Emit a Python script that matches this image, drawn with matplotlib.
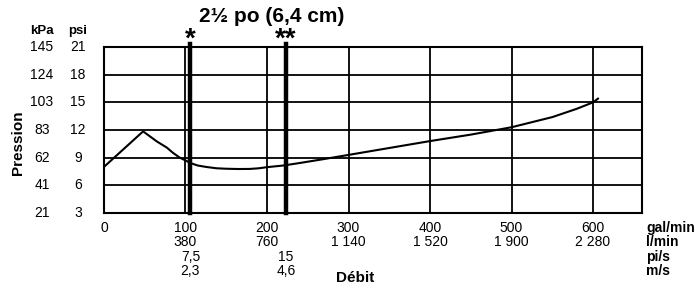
import matplotlib
matplotlib.use("Agg")
import matplotlib.pyplot as plt
import matplotlib.transforms as mtransforms

plt.rcParams['font.family'] = ['Liberation Sans', 'DejaVu Sans']

# pressure axis
psi = [3, 6, 9, 12, 15, 18, 21]
kpa = ['21', '41', '62', '83', '103', '124', '145']

# flow axis
gal_min = [0, 100, 200, 300, 400, 500, 600]
l_min = ['', '380', '760', '1 140', '1 520', '1 900', '2 280']

# velocity markers (* and **)
marker_flow = [106, 223]
marker_star = ['*', '**']
pi_s = ['7,5', '15']
m_s = ['2,3', '4,6']

# pressure loss curve (gal/min, psi)
curve_x = [0, 48, 55, 65, 77, 85, 93, 100, 106, 115, 125, 138, 150, 165,
           179, 190, 200, 220, 240, 270, 300, 350, 400, 450, 500, 550, 580,
           600, 606]
curve_y = [8.0, 11.85, 11.4, 10.75, 10.1, 9.5, 9.0, 8.7, 8.42, 8.15, 8.0,
           7.85, 7.8, 7.77, 7.78, 7.85, 7.97, 8.15, 8.42, 8.85, 9.3, 10.05,
           10.8, 11.5, 12.3, 13.4, 14.3, 15.0, 15.4]

fig = plt.figure(figsize=(6.95, 2.9), dpi=100)
ax = fig.add_axes([0.1496, 0.2655, 0.7741, 0.5724])
ax.set_xlim(0, 660)
ax.set_ylim(3, 21)

for y in psi:
    ax.axhline(y, color='black', lw=1.3, zorder=1)
for x in gal_min[1:]:
    ax.axvline(x, color='black', lw=1.3, zorder=1)
for x in marker_flow:
    ax.plot([x, x], [3, 21.3], color='black', lw=3.2, clip_on=False, zorder=2)

ax.plot(curve_x, curve_y, color='black', lw=1.5, zorder=3)

for s in ax.spines.values():
    s.set_linewidth(1.5)
ax.set_xticks([])
ax.set_yticks([])

bold = dict(fontweight='bold', color='black')

# y labels
ty = mtransforms.blended_transform_factory(fig.transFigure, ax.transData)
for p, k in zip(psi, kpa):
    ax.text(42 / 695, p, k, transform=ty, ha='center', va='center', fontsize=10)
    ax.text(78 / 695, p, str(p), transform=ty, ha='center', va='center', fontsize=10)
fig.text(42 / 695, 1 - 31 / 290, 'kPa', ha='center', va='center', fontsize=9.5, **bold)
fig.text(78 / 695, 1 - 31 / 290, 'psi', ha='center', va='center', fontsize=9.5, **bold)
fig.text(18 / 695, 1 - 143 / 290, 'Pression', rotation=90, ha='center', va='center',
         fontsize=11, **bold)

# x labels
tx = mtransforms.blended_transform_factory(ax.transData, fig.transFigure)
for g, l in zip(gal_min, l_min):
    ax.text(g, 1 - 228 / 290, str(g), transform=tx, ha='center', va='center', fontsize=10)
    ax.text(g, 1 - 242 / 290, l, transform=tx, ha='center', va='center', fontsize=10)
for f, p, m in zip(marker_flow, pi_s, m_s):
    ax.text(f, 1 - 257 / 290, p, transform=tx, ha='center', va='center', fontsize=10)
    ax.text(f, 1 - 271 / 290, m, transform=tx, ha='center', va='center', fontsize=10)
for i, u in enumerate(['gal/min', 'l/min', 'pi/s', 'm/s']):
    fig.text(646 / 695, 1 - (228 + i * 14.3) / 290, u, ha='left', va='center',
             fontsize=10, **bold)
fig.text(355 / 695, 1 - 278 / 290, 'Débit', ha='center', va='center', fontsize=11, **bold)

# title and markers
fig.text(272 / 695, 1 - 17 / 290, '2½ po (6,4 cm)', ha='center', va='center',
         fontsize=15, **bold)
for f, s in zip(marker_flow, marker_star):
    ax.text(f, 1 - 40 / 290, s, transform=tx, ha='center', va='center',
            fontsize=20, **bold)

fig.savefig('out.png', dpi=100)
